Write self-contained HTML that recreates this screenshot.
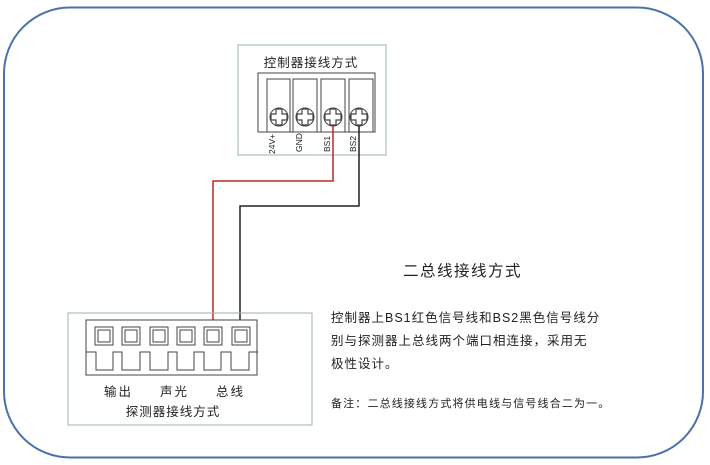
<!DOCTYPE html>
<html><head><meta charset="utf-8"><style>
html,body{margin:0;padding:0;background:#fff;}
svg{display:block;}
text{font-family:"Liberation Sans","Noto Sans CJK SC",sans-serif;fill:#222;}
</style></head><body>
<svg width="710" height="465" viewBox="0 0 710 465" xmlns="http://www.w3.org/2000/svg">
<rect x="4" y="7.5" width="699" height="450" rx="66" ry="66" fill="none" stroke="#4a72a8" stroke-width="2"/>
<!-- top box -->
<rect x="238" y="45" width="148" height="110" fill="#fff" stroke="#9ab0b8" stroke-width="1"/>
<text x="311" y="67" font-size="12.5" text-anchor="middle" letter-spacing="1">控制器接线方式</text>
<rect x="258" y="73" width="117" height="59" fill="#fff" stroke="#444" stroke-width="1"/>
<g fill="none" stroke="#444" stroke-width="1">
<rect x="267" y="79" width="23" height="53"/>
<rect x="293" y="79" width="24" height="53"/>
<rect x="321" y="79" width="24" height="53"/>
<rect x="349" y="79" width="24" height="53"/>
</g>
<g fill="#fff" stroke="#444" stroke-width="1">
<circle cx="279" cy="117" r="9"/><circle cx="305" cy="117" r="9"/><circle cx="333" cy="117" r="9"/><circle cx="359" cy="117" r="9"/>
</g>
<g fill="none" stroke="#444" stroke-width="1.2">
<path d="M276 109h6v5h5v6h-5v5h-6v-5h-5v-6h5z"/>
<path d="M302 109h6v5h5v6h-5v5h-6v-5h-5v-6h5z"/>
<path d="M330 109h6v5h5v6h-5v5h-6v-5h-5v-6h5z"/>
<path d="M356 109h6v5h5v6h-5v5h-6v-5h-5v-6h5z"/>
</g>
<g font-size="8.5">
<text transform="translate(275,154) rotate(-90)">24V+</text>
<text transform="translate(302,152) rotate(-90)">GND</text>
<text transform="translate(330,152) rotate(-90)">BS1</text>
<text transform="translate(356,152) rotate(-90)">BS2</text>
</g>
<!-- wires -->
<polyline points="333,126 333,181 213,181 213,322" fill="none" stroke="#c0282a" stroke-width="1.5"/>
<polyline points="359,126 359,206 240,206 240,322" fill="none" stroke="#222" stroke-width="1.5"/>
<!-- bottom box -->
<rect x="68" y="313" width="244" height="112" fill="none" stroke="#9ab0b8" stroke-width="1"/>
<rect x="86" y="320" width="171" height="55" fill="#fff" stroke="#444" stroke-width="1"/>
<path d="M86 352h10v18h17v-18h9v18h18v-18h10v18h18v-18h9v18h17v-18h10v18h17v-18h10v18h18v-18h9" fill="none" stroke="#444" stroke-width="1"/>
<g fill="#fff" stroke="#444" stroke-width="1">
<rect x="95" y="327" width="18" height="18"/><rect x="122" y="327" width="18" height="18"/>
<rect x="150" y="327" width="18" height="18"/><rect x="177" y="327" width="18" height="18"/>
<rect x="204" y="327" width="18" height="18"/><rect x="232" y="327" width="18" height="18"/>
</g>
<g fill="none" stroke="#444" stroke-width="1">
<rect x="98" y="330" width="12" height="12"/><rect x="125" y="330" width="12" height="12"/>
<rect x="153" y="330" width="12" height="12"/><rect x="180" y="330" width="12" height="12"/>
<rect x="207" y="330" width="12" height="12"/><rect x="235" y="330" width="12" height="12"/>
</g>
<g font-size="12.5" letter-spacing="2">
<text x="104" y="396">输出</text>
<text x="160" y="396">声光</text>
<text x="216" y="396">总线</text>
</g>
<text x="173" y="416" font-size="12.5" text-anchor="middle" letter-spacing="1">探测器接线方式</text>
<!-- right text -->
<text x="403" y="276" font-size="15.5" letter-spacing="1.5">二总线接线方式</text>
<g font-size="12.5" letter-spacing="1">
<text x="331" y="322">控制器上BS1红色信号线和BS2黑色信号线分</text>
<text x="331" y="345">别与探测器上总线两个端口相连接，采用无</text>
<text x="331" y="368">极性设计。</text>
</g>
<text x="331" y="407" font-size="11" letter-spacing="1.15">备注：二总线接线方式将供电线与信号线合二为一。</text>
</svg>
</body></html>
